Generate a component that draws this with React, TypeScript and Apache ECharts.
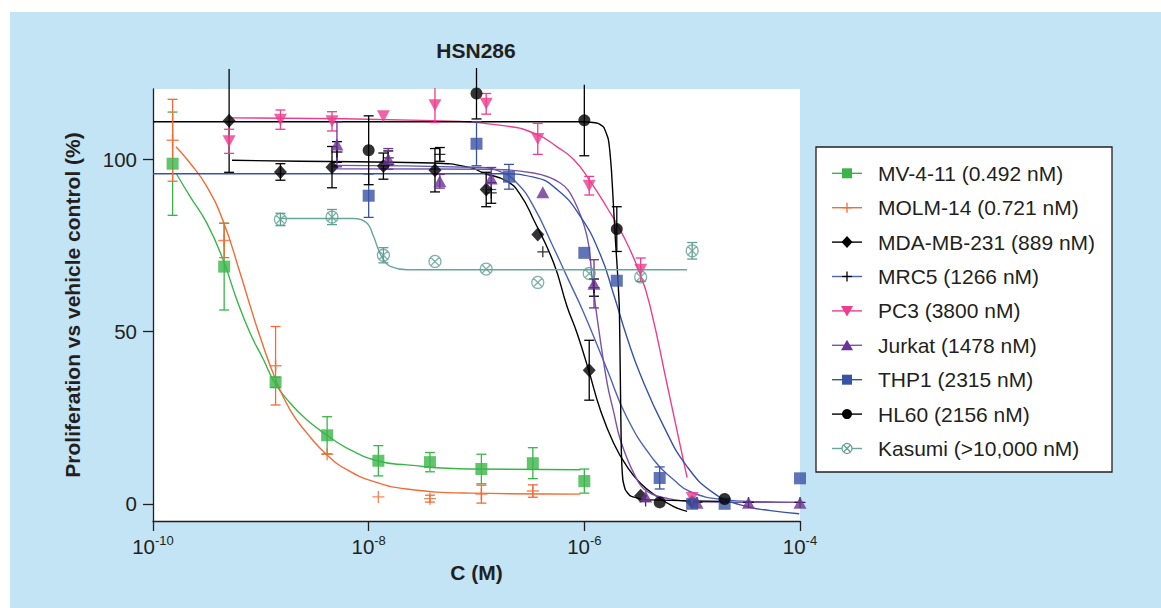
import React, { useEffect, useRef } from 'react';
import * as echarts from 'echarts';

const FONT = "'Liberation Sans', Arial, Helvetica, sans-serif";
const INK = '#231f20';

// ---------- axis ticks ----------
const xTickValues = [1e-10, 1e-8, 1e-6, 1e-4];
const yTickValues = [0, 50, 100];

// ---------- concentrations (M) ----------
const concMV = [1.52e-10, 4.57e-10, 1.37e-9, 4.12e-9, 1.23e-8, 3.7e-8, 1.11e-7, 3.33e-7, 1e-6];
const concMOLM = [1.52e-10, 4.57e-10, 1.37e-9, 4.12e-9, 1.23e-8, 3.7e-8, 1.11e-7, 3.33e-7];
const concB = [5.08e-10, 1.52e-9, 4.57e-9, 1.37e-8, 4.12e-8, 1.23e-7, 3.7e-7, 1.11e-6, 3.33e-6, 1e-5];
const concC = [5.08e-9, 1.52e-8, 4.57e-8, 1.37e-7, 4.12e-7, 1.23e-6, 3.7e-6, 1.11e-5, 3.33e-5, 1e-4];
const concTHP1 = [1e-8, 1e-7, 2e-7, 1e-6, 2e-6, 5e-6, 1e-5, 2e-5, 1e-4];
const concHL60 = [1e-8, 1e-7, 1e-6, 2e-6, 5e-6, 2e-5];
const concKasumi = [1.52e-9, 4.57e-9, 1.37e-8, 4.12e-8, 1.23e-7, 3.7e-7, 1.11e-6, 3.33e-6, 1e-5];

// ---------- measured values (%) and SD ----------
const mvVal = [98.8, 68.9, 35.3, 19.9, 12.5, 12.1, 10.1, 11.8, 6.6];
const mvErr = [15, 12.6, 1.5, 5.4, 4.4, 2.8, 4.3, 4.5, 3.5];
const molmVal = [105.6, 76.5, 40.1, 14.4, 2.0, 1.5, 2.8, 3.7];
const molmErr = [11.9, 5, 11.4, 0, 0, 1, 2.6, 1.8];
const mdaVal = [111.3, 96.4, 97.8, 98.1, 96.9, 91.3, 78.2, 38.8, 2.3, 0.5];
const mdaErr = [15, 2.4, 6, 3.8, 6.3, 5, 0, 8.7, 0, 0];
const mrc5Val = [102.2, 100.5, 101.5, 90.3, 73.2, 62.8, 0.8, 0.4, 0.4, 0.4];
const mrc5Err = [3, 2, 2, 3, 0, 2.5, 0, 0, 0, 0];
const pc3Val = [105.3, 111.6, 111.1, 112.6, 115.8, 116.2, 106, 92.4, 68, 1.7];
const pc3Err = [3.5, 2.8, 2.8, 0, 5, 3, 4.5, 2.7, 3.4, 0];
const jurkatVal = [104.4, 100.2, 93.7, 94.5, 90.5, 63.9, 2.1, 0.3, 0.3, 0.3];
const jurkatErr = [6.5, 3, 2, 3.2, 0, 7, 0, 0, 0, 0];
const thp1Val = [89.5, 104.6, 95, 72.9, 64.8, 7.5, 0, 0, 7.4];
const thp1Err = [6.3, 6.4, 3.6, 0, 0, 3.2, 0, 0, 0];
const hl60Val = [102.7, 119.2, 111.4, 79.8, 0.4, 1.4];
const hl60Err = [10, 7.4, 10.3, 6.5, 0, 0];
const kasumiVal = [82.6, 83.3, 72.2, 70.4, 68.2, 64.3, 66.9, 65.9, 73.5];
const kasumiErr = [1.8, 2.2, 2.2, 0, 0, 0, 0, 0, 2.4];

// ---------- fitted curves (log10 C, %) ----------
const mvFitLogC = [-9.787, -9.657, -9.502, -9.35, -9.223, -9.1, -8.976, -8.874, -8.729, -8.574, -8.394, -8.202, -7.921, -7.645, -7.058, -6.037];
const mvFitVal = [96.1, 89.3, 81.6, 70.9, 59.3, 49.6, 41.9, 35.3, 29.3, 24.4, 20.1, 16.2, 12.5, 11.3, 10.1, 9.9];
const molmFitLogC = [-9.787, -9.657, -9.502, -9.348, -9.193, -9.1, -9.007, -8.874, -8.729, -8.574, -8.394, -8.202, -7.955, -7.645, -7.058, -6.037];
const molmFitVal = [103.7, 99.0, 92.2, 82.0, 67.1, 57.6, 48.5, 37.0, 27.3, 20.6, 14.4, 9.9, 6.5, 4.3, 3.1, 2.8];
const mdaFitLogC = [-9.267, -8.636, -7.401, -7.058, -6.937, -6.717, -6.594, -6.471, -6.285, -6.161, -6.068, -5.96, -5.852, -5.728, -5.604, -5.48, -5.325, -5.171, -5.047];
const mdaFitVal = [99.8, 99.5, 99.0, 97.7, 96.1, 93.7, 89.8, 82.6, 70.0, 57.4, 49.6, 38.8, 27.3, 17.6, 10.8, 6.0, 2.1, -0.8, -2.2];
const mrc5FitLogC = [-8.329, -6.965, -6.78, -6.625, -6.471, -6.285, -6.161, -6.006, -5.789, -5.604, -5.357, -5.171, -5.016, -4.707, -4.367, -4.005];
const mrc5FitVal = [98.3, 97.7, 96.5, 93.2, 86.4, 74.4, 66.0, 55.5, 39.0, 25.0, 12.8, 7.0, 3.5, 1.2, 0.6, 0.4];
const pc3FitLogC = [-9.285, -7.401, -6.717, -6.439, -6.253, -6.099, -5.956, -5.789, -5.635, -5.48, -5.387, -5.232, -5.047];
const pc3FitVal = [112.1, 111.3, 109.7, 107.3, 103.7, 100.0, 94.2, 86.0, 77.6, 66.6, 57.0, 34.6, 7.6];
const jurkatFitLogC = [-8.295, -6.965, -6.471, -6.223, -6.099, -5.975, -5.926, -5.879, -5.789, -5.728, -5.666, -5.542, -5.418, -5.171, -4.923, -4.005];
const jurkatFitVal = [97.3, 97.2, 96.1, 93.2, 88.4, 77.7, 65.1, 53.5, 35.1, 26.7, 18.6, 8.9, 3.6, 1.2, 0.6, 0.4];
const thp1FitLogC = [-10, -6.78, -6.471, -6.253, -6.037, -5.852, -5.728, -5.604, -5.48, -5.264, -5.047, -4.8, -4.552, -4.274, -4.007];
const thp1FitVal = [95.9, 95.9, 94.9, 91.3, 83.5, 72.4, 60.8, 48.3, 37.5, 22.5, 10.8, 3.1, -0.3, -2.0, -2.9];
const hl60FitLogC = [-10, -6.009, -5.879, -5.821, -5.777, -5.749, -5.728, -5.709, -5.691, -5.675, -5.666, -5.657, -5.643, -5.62, -5.573, -5.434, -4.719];
const hl60FitVal = [111.0, 111.0, 110.6, 109.4, 105.8, 97.1, 85.5, 75.3, 66.6, 56.4, 36.0, 15.7, 7.0, 4.1, 2.3, 1.2, 0.7];
const kasumiFitLogC = [-8.831, -8.141, -8.017, -7.955, -7.909, -7.863, -7.8, -7.645, -5.047];
const kasumiFitVal = [82.9, 82.9, 81.6, 77.7, 73.8, 70.9, 69.0, 68.0, 68.0];

// ---------- legend labels ----------
const legendLabels = [
  'MV-4-11 (0.492 nM)',
  'MOLM-14 (0.721 nM)',
  'MDA-MB-231 (889 nM)',
  'MRC5 (1266 nM)',
  'PC3 (3800 nM)',
  'Jurkat (1478 nM)',
  'THP1 (2315 nM)',
  'HL60 (2156 nM)',
  'Kasumi (>10,000 nM)',
];

const PLUS = 'path://M4.4,0H5.6V4.4H10V5.6H5.6V10H4.4V5.6H0V4.4H4.4Z';
const OTIMES = 'path://M0,6A6,6 0 1,0 12,6A6,6 0 1,0 0,6Z M1.76,1.76L10.24,10.24 M10.24,1.76L1.76,10.24';

type Kind = 'square' | 'plus' | 'diamond' | 'down' | 'up' | 'circle' | 'otimes';

interface CellLine {
  name: string;
  conc: number[];
  val: number[];
  err: number[];
  fitLogC: number[];
  fitVal: number[];
  color: string;
  lineColor: string;
  kind: Kind;
  symbol: string;
  size: number | number[];
  rotate?: number;
  smooth: number;
}

const cellLines: CellLine[] = [
  { name: 'MV-4-11', conc: concMV, val: mvVal, err: mvErr, fitLogC: mvFitLogC, fitVal: mvFitVal, color: '#3bb54a', lineColor: '#3bb54a', kind: 'square', symbol: 'rect', size: 12, smooth: 0.5 },
  { name: 'MOLM-14', conc: concMOLM, val: molmVal, err: molmErr, fitLogC: molmFitLogC, fitVal: molmFitVal, color: '#f26c36', lineColor: '#f26c36', kind: 'plus', symbol: PLUS, size: 12, smooth: 0.5 },
  { name: 'MDA-MB-231', conc: concB, val: mdaVal, err: mdaErr, fitLogC: mdaFitLogC, fitVal: mdaFitVal, color: '#000000', lineColor: '#000000', kind: 'diamond', symbol: 'diamond', size: [13, 14], smooth: 0.5 },
  { name: 'MRC5', conc: concC, val: mrc5Val, err: mrc5Err, fitLogC: mrc5FitLogC, fitVal: mrc5FitVal, color: '#000000', lineColor: '#4d63b2', kind: 'plus', symbol: PLUS, size: 11, smooth: 0.5 },
  { name: 'PC3', conc: concB, val: pc3Val, err: pc3Err, fitLogC: pc3FitLogC, fitVal: pc3FitVal, color: '#ec3d8e', lineColor: '#ec3d8e', kind: 'down', symbol: 'triangle', size: [13, 12], rotate: 180, smooth: 0.5 },
  { name: 'Jurkat', conc: concC, val: jurkatVal, err: jurkatErr, fitLogC: jurkatFitLogC, fitVal: jurkatFitVal, color: '#6b3394', lineColor: '#7b52a8', kind: 'up', symbol: 'triangle', size: [13, 12], smooth: 0.4 },
  { name: 'THP1', conc: concTHP1, val: thp1Val, err: thp1Err, fitLogC: thp1FitLogC, fitVal: thp1FitVal, color: '#3953a4', lineColor: '#3953a4', kind: 'square', symbol: 'rect', size: 12, smooth: 0.5 },
  { name: 'HL60', conc: concHL60, val: hl60Val, err: hl60Err, fitLogC: hl60FitLogC, fitVal: hl60FitVal, color: '#000000', lineColor: '#000000', kind: 'circle', symbol: 'circle', size: 12, smooth: 0.15 },
  { name: 'Kasumi', conc: concKasumi, val: kasumiVal, err: kasumiErr, fitLogC: kasumiFitLogC, fitVal: kasumiFitVal, color: '#5e9f92', lineColor: '#6aa59a', kind: 'otimes', symbol: OTIMES, size: 12, smooth: 0.4 },
];

const Y_MIN = -5;
const Y_MAX = 120.5;

function legendMarker(kind: Kind, cx: number, cy: number, color: string): any[] {
  const s = 5;
  switch (kind) {
    case 'square':
      return [{ type: 'rect', shape: { x: cx - s, y: cy - s, width: 2 * s, height: 2 * s }, style: { fill: color } }];
    case 'plus':
      return [
        { type: 'line', shape: { x1: cx - s, y1: cy, x2: cx + s, y2: cy }, style: { stroke: color, lineWidth: 1.3 } },
        { type: 'line', shape: { x1: cx, y1: cy - s, x2: cx, y2: cy + s }, style: { stroke: color, lineWidth: 1.3 } },
      ];
    case 'diamond':
      return [{ type: 'polygon', shape: { points: [[cx, cy - 6], [cx + 5.5, cy], [cx, cy + 6], [cx - 5.5, cy]] }, style: { fill: color } }];
    case 'down':
      return [{ type: 'polygon', shape: { points: [[cx - 6, cy - 5], [cx + 6, cy - 5], [cx, cy + 5.5]] }, style: { fill: color } }];
    case 'up':
      return [{ type: 'polygon', shape: { points: [[cx - 6, cy + 5], [cx + 6, cy + 5], [cx, cy - 5.5]] }, style: { fill: color } }];
    case 'circle':
      return [{ type: 'circle', shape: { cx, cy, r: 5 }, style: { fill: color } }];
    case 'otimes':
      return [
        { type: 'circle', shape: { cx, cy, r: 5 }, style: { fill: '#fff', stroke: color, lineWidth: 1.2 } },
        { type: 'line', shape: { x1: cx - 3.5, y1: cy - 3.5, x2: cx + 3.5, y2: cy + 3.5 }, style: { stroke: color, lineWidth: 1.2 } },
        { type: 'line', shape: { x1: cx + 3.5, y1: cy - 3.5, x2: cx - 3.5, y2: cy + 3.5 }, style: { stroke: color, lineWidth: 1.2 } },
      ];
  }
  return [];
}

export default function App() {
  const ref = useRef<HTMLDivElement>(null);

  useEffect(() => {
    if (!ref.current) return;
    const chart = echarts.init(ref.current, undefined, { renderer: 'svg' });

    const series: any[] = [];
    // fitted curves
    cellLines.forEach((cl) => {
      series.push({
        type: 'line',
        name: cl.name + ' fit',
        data: cl.fitLogC.map((l, i) => [Math.pow(10, l), cl.fitVal[i]]),
        showSymbol: false,
        symbol: 'none',
        smooth: cl.smooth,
        lineStyle: { color: cl.lineColor, width: 1.4 },
        silent: true,
        z: 2,
      });
    });
    // error bars
    cellLines.forEach((cl) => {
      const data = cl.conc
        .map((c, i) => [c, cl.val[i] - cl.err[i], cl.val[i] + cl.err[i]])
        .filter((d, i) => cl.err[i] > 0);
      series.push({
        type: 'custom',
        name: cl.name + ' SD',
        data,
        encode: { x: 0, y: [1, 2] },
        silent: true,
        z: 3,
        renderItem: (params: any, api: any) => {
          const x = api.value(0);
          const lo = api.value(1);
          const hi = api.value(2);
          const pLo = api.coord([x, lo]);
          const pHi = api.coord([x, hi]);
          const hw = 5;
          const st = { stroke: cl.color, lineWidth: 1.3 };
          const children: any[] = [
            { type: 'line', shape: { x1: pLo[0], y1: pLo[1], x2: pHi[0], y2: pHi[1] }, style: st },
            { type: 'line', shape: { x1: pLo[0] - hw, y1: pLo[1], x2: pLo[0] + hw, y2: pLo[1] }, style: st },
          ];
          if (hi <= Y_MAX) {
            children.push({ type: 'line', shape: { x1: pHi[0] - hw, y1: pHi[1], x2: pHi[0] + hw, y2: pHi[1] }, style: st });
          }
          return { type: 'group', children };
        },
      });
    });
    // points
    cellLines.forEach((cl) => {
      series.push({
        type: 'scatter',
        name: cl.name,
        data: cl.conc.map((c, i) => [c, cl.val[i]]),
        symbol: cl.symbol,
        symbolSize: cl.size,
        symbolRotate: cl.rotate || 0,
        itemStyle:
          cl.kind === 'otimes'
            ? { color: 'rgba(255,255,255,0.01)', borderColor: cl.color, borderWidth: 1.3 }
            : { color: cl.color },
        silent: true,
        z: 4,
      });
    });

    // legend (drawn as graphic)
    const legendChildren: any[] = [
      { type: 'rect', shape: { x: 816, y: 147, width: 296, height: 325 }, style: { fill: '#ffffff', stroke: INK, lineWidth: 1.3 } },
    ];
    cellLines.forEach((cl, i) => {
      const cy = 173.3 + i * 34.4;
      legendChildren.push({ type: 'line', shape: { x1: 832, y1: cy, x2: 862, y2: cy }, style: { stroke: cl.lineColor, lineWidth: 1.4 } });
      legendMarker(cl.kind, 847, cy, cl.color).forEach((m) => legendChildren.push(m));
      legendChildren.push({
        type: 'text',
        x: 878,
        y: cy,
        style: { text: legendLabels[i], fontSize: 21, fontFamily: FONT, fill: INK, align: 'left', verticalAlign: 'middle' },
      });
    });

    chart.setOption({
      animation: false,
      grid: { left: 153, right: 361, top: 89, bottom: 87, show: true, backgroundColor: '#ffffff', borderWidth: 0 },
      xAxis: {
        type: 'log',
        logBase: 10,
        min: 1e-10,
        max: 1e-4,
        axisLine: { show: true, onZero: false, lineStyle: { color: INK, width: 1.3 } },
        axisTick: { show: true, length: 10, lineStyle: { color: INK, width: 1.3 }, customValues: xTickValues },
        minorTick: { show: false },
        splitLine: { show: false },
        axisLabel: {
          customValues: xTickValues,
          margin: 13,
          formatter: (v: number) => '{b|10}{s|' + Math.round(Math.log10(v)) + '}',
          rich: {
            b: { fontSize: 20.5, fontFamily: FONT, color: INK, lineHeight: 24 },
            s: { fontSize: 13, fontFamily: FONT, color: INK, lineHeight: 14, verticalAlign: 'top' },
          },
        },
        name: 'C (M)',
        nameLocation: 'middle',
        nameGap: 41,
        nameTextStyle: { fontSize: 21, fontWeight: 'bold', color: INK, fontFamily: FONT },
      },
      yAxis: {
        type: 'value',
        min: Y_MIN,
        max: Y_MAX,
        axisLine: { show: true, onZero: false, lineStyle: { color: INK, width: 1.3 } },
        axisTick: { show: true, length: 10, lineStyle: { color: INK, width: 1.3 }, customValues: yTickValues },
        splitLine: { show: false },
        axisLabel: { customValues: yTickValues, fontSize: 20.5, fontFamily: FONT, color: INK, margin: 16 },
        name: 'Proliferation vs vehicle control (%)',
        nameLocation: 'middle',
        nameGap: 70,
        nameTextStyle: { fontSize: 21, fontWeight: 'bold', color: INK, fontFamily: FONT },
      },
      graphic: [
        {
          type: 'text',
          x: 476,
          y: 50,
          style: { text: 'HSN286', fontSize: 21, fontWeight: 'bold', fontFamily: FONT, fill: INK, align: 'center', verticalAlign: 'middle' },
        },
        { type: 'group', children: legendChildren },
      ],
      series,
    });

    return () => chart.dispose();
  }, []);

  return (
    <div style={{ position: 'fixed', left: 0, top: 0, width: 1161, height: 608, background: '#ffffff' }}>
      <div style={{ position: 'absolute', left: 10, top: 12, right: 0, bottom: 0, background: '#c2e4f5' }} />
      <div ref={ref} style={{ position: 'absolute', left: 0, top: 0, width: 1161, height: 608 }} />
    </div>
  );
}
